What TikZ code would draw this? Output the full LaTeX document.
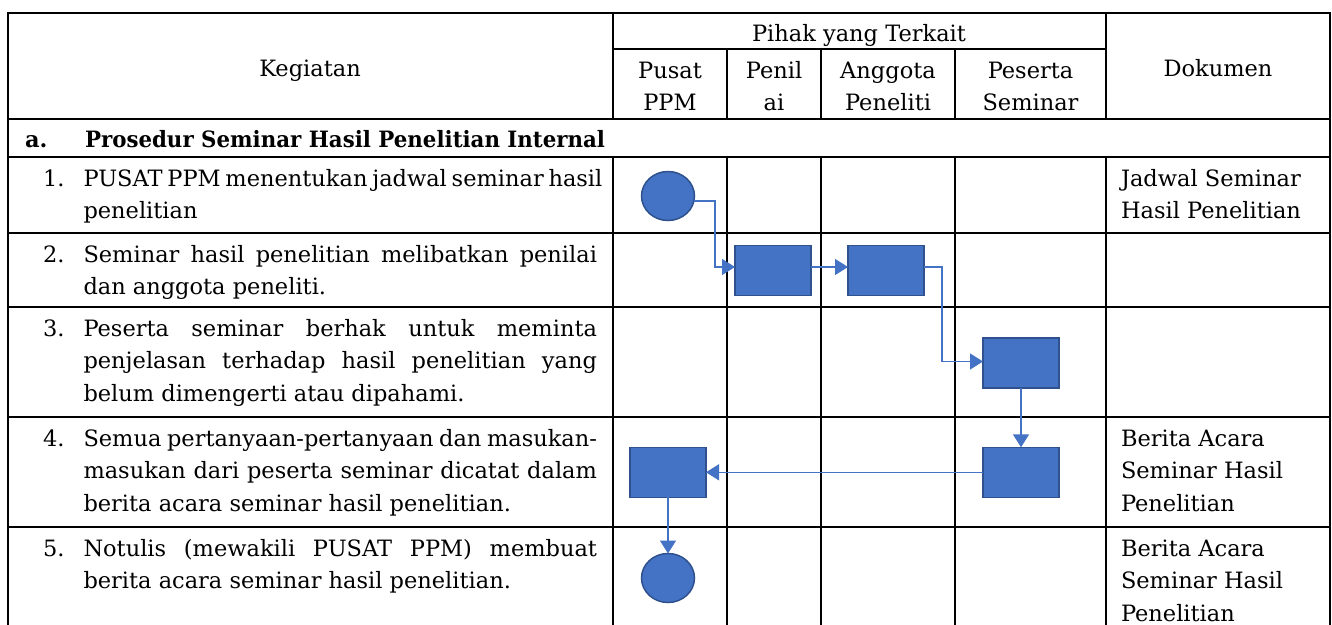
\documentclass[tikz,border=0pt]{standalone}
\usepackage{fontspec}
\setmainfont{DejaVu Serif}
\usetikzlibrary{arrows.meta,shapes.geometric}
\definecolor{ofblue}{HTML}{4472C4}
\definecolor{ofdark}{HTML}{2F528F}
\newcommand{\rowstrut}{\rule{0pt}{21pt}}
\newcommand{\jline}[1]{\makebox[513.5pt][s]{#1}}
\begin{document}
\begin{tikzpicture}[x=1pt,y=-1pt,
  grid/.style={line width=2pt, black},
  txt/.style={inner sep=0pt, outer sep=0pt, font=\fontsize{22.5}{32.5}\selectfont},
  bold/.style={inner sep=0pt, outer sep=0pt, font=\fontsize{22.5}{32.5}\selectfont\bfseries},
  flowbox/.style={draw=ofdark, line width=1.5pt, fill=ofblue, minimum width=76pt, minimum height=50pt, inner sep=0pt, outer sep=0pt},
  flowend/.style={ellipse, draw=ofdark, line width=1.5pt, fill=ofblue, minimum width=53pt, minimum height=49pt, inner sep=0pt, outer sep=0pt},
  conn/.style={draw=ofblue, line width=1.4pt, -{Triangle[length=13pt,width=16pt]}},
]
\useasboundingbox (0,0) rectangle (1332,624);
\fill[white] (0,0) rectangle (1332,624);

% table grid
\draw[grid] (8,640) -- (8,13) -- (1330,13) -- (1330,640);
\foreach \yy in {118.5,156.5,232.5,306.7,416.7,526.5}
  \draw[grid] (8,\yy) -- (1330,\yy);
\draw[grid] (612.5,49) -- (1106,49);
\draw[grid] (612.5,13) -- (612.5,118.5);
\draw[grid] (1106,13) -- (1106,118.5);
\foreach \xx in {727,821,955}
  \draw[grid] (\xx,49) -- (\xx,118.5);
\foreach \xx in {612.5,727,821,955,1106}
  \draw[grid] (\xx,156.5) -- (\xx,640);

% header texts
\node[txt, anchor=base] (hkeg) at (310,76) {Kegiatan};
\node[txt, anchor=base] (hpih) at (859,41) {Pihak yang Terkait};
\node[txt, anchor=north, align=center] (hpus) at (670,57) {\rowstrut Pusat\\PPM};
\node[txt, anchor=north, align=center] (hpen) at (774,57) {\rowstrut Penil\\ai};
\node[txt, anchor=north, align=center] (hang) at (888,57) {\rowstrut Anggota\\Peneliti};
\node[txt, anchor=north, align=center] (hpes) at (1030.5,57) {\rowstrut Peserta\\Seminar};
\node[txt, anchor=base] (hdok) at (1218,76) {Dokumen};

% section row
\node[bold, anchor=base west] (sa) at (25,147.5) {a.};
\node[bold, anchor=base west] (stitle) at (85,147.5) {\scalebox{0.948}[1]{Prosedur Seminar Hasil Penelitian Internal}};

% numbers
\node[txt, anchor=base west] (n1) at (43,186) {1.};
\node[txt, anchor=base west] (n2) at (43,262) {2.};
\node[txt, anchor=base west] (n3) at (43,336.2) {3.};
\node[txt, anchor=base west] (n4) at (43,446.2) {4.};
\node[txt, anchor=base west] (n5) at (43,556) {5.};

% activity texts
\node[txt, anchor=north west, align=left] (t1) at (83.5,165) {\rowstrut\jline{PUSAT PPM menentukan jadwal seminar hasil}\\penelitian};
\node[txt, anchor=north west, align=left] (t2) at (83.5,241) {\rowstrut\jline{Seminar hasil penelitian melibatkan penilai}\\dan anggota peneliti.};
\node[txt, anchor=north west, align=left] (t3) at (83.5,315.2) {\rowstrut\jline{Peserta seminar berhak untuk meminta}\\\jline{penjelasan terhadap hasil penelitian yang}\\belum dimengerti atau dipahami.};
\node[txt, anchor=north west, align=left] (t4) at (83.5,425.2) {\rowstrut\jline{Semua pertanyaan-pertanyaan dan masukan-}\\\jline{masukan dari peserta seminar dicatat dalam}\\berita acara seminar hasil penelitian.};
\node[txt, anchor=north west, align=left] (t5) at (83.5,535) {\rowstrut\jline{Notulis (mewakili PUSAT PPM) membuat}\\berita acara seminar hasil penelitian.};

% documents
\node[txt, anchor=north west, align=left] (d1) at (1121,165) {\rowstrut Jadwal Seminar\\Hasil Penelitian};
\node[txt, anchor=north west, align=left] (d4) at (1121,425.2) {\rowstrut Berita Acara\\Seminar Hasil\\Penelitian};
\node[txt, anchor=north west, align=left] (d5) at (1121,535) {\rowstrut Berita Acara\\Seminar Hasil\\Penelitian};

% flow shapes
\node[flowend] (c1) at (668,196) {};
\node[flowbox] (r1) at (773,270.5) {};
\node[flowbox] (r2) at (886,270.5) {};
\node[flowbox] (r3) at (1021,363) {};
\node[flowbox] (r4r) at (1021,472.3) {};
\node[flowbox] (r4l) at (668,472.3) {};
\node[flowend] (c5) at (668,578) {};

% connectors
\draw[conn] (c1.-11) -- ++(21,0) |- ([yshift=3.5pt]r1.west);
\draw[conn] ([yshift=3.5pt]r1.east) -- ([yshift=3.5pt]r2.west);
\draw[conn] ([yshift=3.5pt]r2.east) -- ++(18,0) |- ([yshift=1.5pt]r3.west);
\draw[conn] (r3.south) -- (r4r.north);
\draw[conn] (r4r.west) -- (r4l.east);
\draw[conn] (r4l.south) -- (c5.north);
\end{tikzpicture}
\end{document}
